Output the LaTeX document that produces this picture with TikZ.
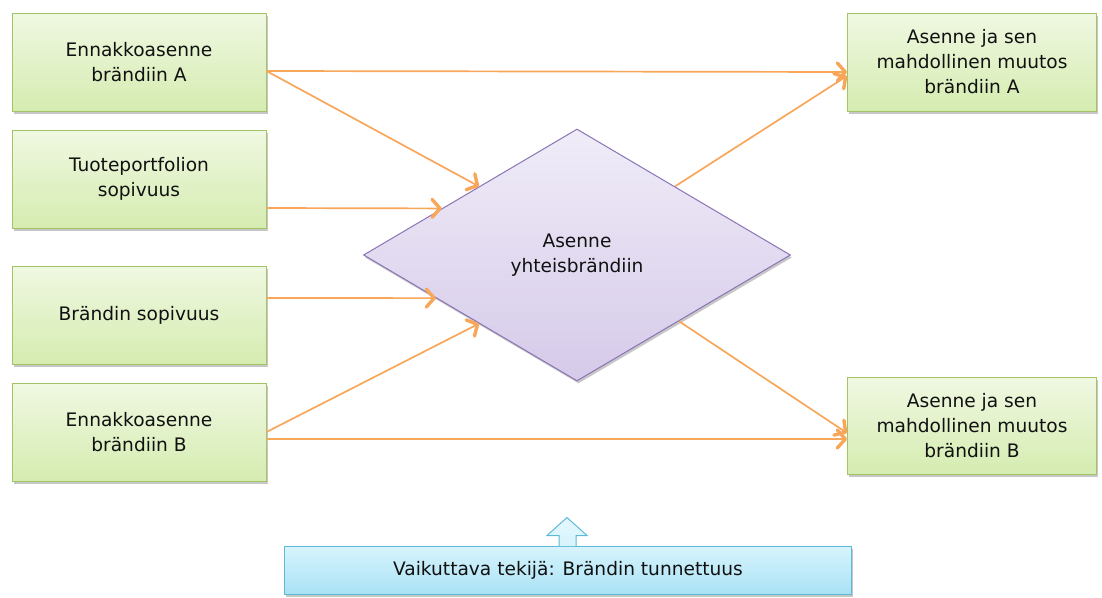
\documentclass[tikz,border=0pt]{standalone}
\usepackage{fontspec}
\setmainfont{DejaVu Sans}
\usetikzlibrary{arrows.meta,shapes.geometric,shadows,calc}

\definecolor{grnTop}{HTML}{F0F8E2}
\definecolor{grnBot}{HTML}{D5ECB0}
\definecolor{grnLine}{HTML}{A3C465}
\definecolor{lilTop}{HTML}{F0ECF8}
\definecolor{lilBot}{HTML}{D5CAE9}
\definecolor{lilLine}{HTML}{8A74B4}
\definecolor{cyaTop}{HTML}{D8F4FD}
\definecolor{cyaBot}{HTML}{A9E2F5}
\definecolor{cyaLine}{HTML}{5DB9D5}
\definecolor{flow}{HTML}{F8A65A}
\definecolor{ink}{HTML}{111111}

\tikzset{
  softshadow/.style={drop shadow={shadow xshift=1.5pt, shadow yshift=-2.5pt, opacity=0.22, fill=black}},
  factor/.style={draw=grnLine, line width=1pt, top color=grnTop, bottom color=grnBot,
    minimum width=254pt, minimum height=98pt, inner sep=0pt, align=center,
    text=ink, font=\fontsize{18.6}{25}\selectfont, softshadow},
  hub/.style={diamond, draw=lilLine, line width=1pt, top color=lilTop, bottom color=lilBot,
    minimum width=427pt, minimum height=252pt, inner sep=0pt, align=center,
    text=ink, font=\fontsize{18.6}{25}\selectfont, softshadow},
  influence/.style={draw=cyaLine, line width=1pt, top color=cyaTop, bottom color=cyaBot,
    minimum width=567pt, minimum height=48pt, inner sep=0pt, align=center,
    text=ink, font=\fontsize{18.6}{25}\selectfont, softshadow},
  flowline/.style={draw=flow, line width=1.7pt,
    -{Straight Barb[length=8pt,width=18pt,line width=3.4pt,round]}},
}

\begin{document}
\begin{tikzpicture}[x=1pt,y=-1pt]
\useasboundingbox (0,0) rectangle (1102,597);

% left column of inputs
\node[factor] (preA)  at (139,62)  {Ennakkoasenne\\brändiin A};
\node[factor] (port)  at (139,179) {Tuoteportfolion\\sopivuus};
\node[factor] (fit)   at (139,315) {Brändin sopivuus};
\node[factor] (preB)  at (139,432) {Ennakkoasenne\\brändiin B};

% central attitude
\node[hub] (co) at (577,255) {Asenne\\yhteisbrändiin};

% right column of outcomes
\node[factor, minimum width=249pt] (outA) at (972,62)  {Asenne ja sen\\mahdollinen muutos\\brändiin A};
\node[factor, minimum width=249pt, minimum height=97pt] (outB) at (972,426) {Asenne ja sen\\mahdollinen muutos\\brändiin B};

% moderating factor
\node[influence] (aw) at (568,570) {Vaikuttava tekijä: Brändin tunnettuus};

% connectors into the hub
\draw[flowline] ([yshift=-9pt]preA.east) -- (co.145);
\draw[flowline] ([yshift=-29pt]port.east) -- (co.161);
\draw[flowline] ([yshift=17pt]fit.east) -- (co.197.5);
\draw[flowline] (preB.east) -- (co.215);

% direct connectors to outcomes
\draw[flowline] ([yshift=-9pt]preA.east) -- ([yshift=-10pt]outA.west);
\draw[flowline] ([yshift=-7pt]preB.east) -- ([yshift=-13pt]outB.west);

% hub to outcomes
\draw[flowline] (co.35.5) -- ([yshift=-14pt]outA.west);
\draw[flowline] (co.-33) -- ([yshift=-7pt]outB.west);

% block arrow on top of the moderating factor
\coordinate (awTop) at (aw.north);
\draw[draw=cyaLine, line width=1pt, top color=white!30!cyaTop, bottom color=cyaTop]
  ($(awTop)+(-9,0.5)$) -- ($(awTop)+(-9,-10)$) -- ($(awTop)+(-21,-10)$)
  -- ($(awTop)+(-1,-28)$) -- ($(awTop)+(19,-10)$) -- ($(awTop)+(8,-10)$)
  -- ($(awTop)+(8,0.5)$);
\end{tikzpicture}
\end{document}
